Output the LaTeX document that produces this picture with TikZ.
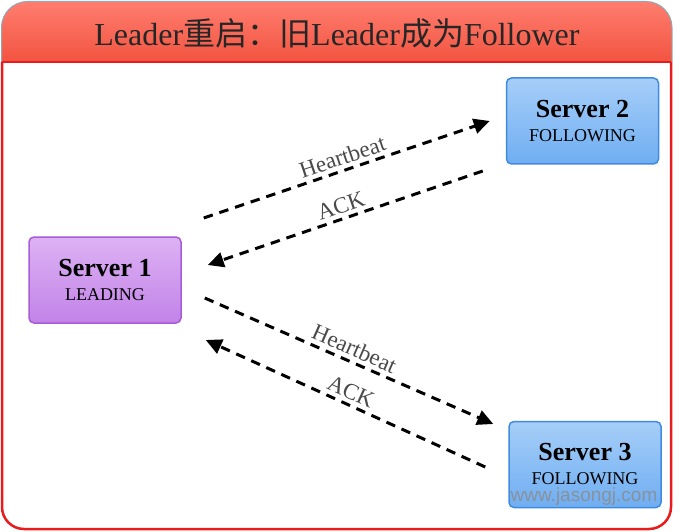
\documentclass[tikz,border=0pt]{standalone}
\usepackage{fontspec}
\setmainfont{Liberation Serif}
\newfontfamily\cjk{Noto Sans CJK SC}
\newfontfamily\wmfont{Liberation Sans}
\usetikzlibrary{arrows.meta}

\definecolor{headtop}{HTML}{FF7E70}
\definecolor{headbot}{HTML}{F25440}
\definecolor{headline}{HTML}{8FA9B8}
\definecolor{framered}{HTML}{E81C1C}
\definecolor{leadtop}{HTML}{DDB2F4}
\definecolor{leadbot}{HTML}{C283E8}
\definecolor{leadline}{HTML}{A95BD8}
\definecolor{folltop}{HTML}{A6CEF8}
\definecolor{follbot}{HTML}{6FAEF2}
\definecolor{follline}{HTML}{3F8BE0}
\definecolor{labelgray}{HTML}{4A4A4A}

\begin{document}
\begin{tikzpicture}[x=1pt,y=-1pt,
  server/.style={rounded corners=5pt, minimum width=152pt, minimum height=86pt,
    align=center, line width=1.5pt, inner sep=0pt, font=\fontsize{18}{24}\selectfont},
  leadbox/.style={server, draw=leadline, top color=leadtop, bottom color=leadbot},
  followbox/.style={server, draw=follline, top color=folltop, bottom color=follbot},
  msg/.style={line width=3pt, dash pattern=on 9.5pt off 7pt,
    -{Triangle[length=16pt,width=15pt]}},
  msglabel/.style={font=\fontsize{23}{23}\selectfont, text=labelgray,
    sloped, above, pos=0.5, inner sep=4pt}]
\useasboundingbox (0,0) rectangle (675,532);
\fill[white] (0,0) rectangle (675,532);

\begin{scope}
\clip[rounded corners=26pt] (1.5,1.5) rectangle (672,530);
\shade[top color=headtop, bottom color=headbot] (0,0) rectangle (675,62);
\end{scope}
\draw[headline, line width=1pt, rounded corners=26pt] (1.5,62) -- (1.5,1.5) -- (672,1.5) -- (672,62);
\draw[framered, line width=2.5pt, rounded corners=22pt] (2,62) -- (2,529) -- (671,529) -- (671,62);
\draw[framered, line width=2.5pt] (2,62) -- (671,62);

\node[text=black!85] (title) at (337,33) {\fontsize{32}{32}\selectfont Leader{\cjk 重启：旧}Leader{\cjk 成为}Follower};

\node[leadbox] (s1) at (105,280)
  {{\fontsize{26}{26}\selectfont\bfseries Server 1}\\LEADING};
\node[followbox] (s2) at (582.5,121)
  {{\fontsize{26}{26}\selectfont\bfseries Server 2}\\FOLLOWING};
\node[followbox] (s3) at (585,464.5)
  {{\fontsize{26}{26}\selectfont\bfseries Server 3}\\FOLLOWING};
\node[text=gray!90, opacity=0.85] (mark) at (584,497) {\wmfont\fontsize{19}{19}\selectfont www.jasongj.com};

\coordinate (hb1s) at ([shift={(22,-62)}]s1.east);
\coordinate (hb1e) at ([shift={(-16,0)}]s2.west);
\coordinate (ack1s) at ([shift={(-23,50)}]s2.west);
\coordinate (ack1e) at ([shift={(26,-15)}]s1.east);
\coordinate (hb2s) at ([shift={(23,18)}]s1.east);
\coordinate (hb2e) at ([shift={(-15,-40.5)}]s3.west);
\coordinate (ack2s) at ([shift={(-23,2.5)}]s3.west);
\coordinate (ack2e) at ([shift={(24,60)}]s1.east);

\draw[msg] (hb1s) -- node[msglabel] {Heartbeat} (hb1e);
\draw[msg] (ack1s) -- node[msglabel] {ACK} (ack1e);
\draw[msg] (hb2s) -- node[msglabel] {Heartbeat} (hb2e);
\draw[msg] (ack2s) -- node[msglabel] {ACK} (ack2e);
\end{tikzpicture}
\end{document}
